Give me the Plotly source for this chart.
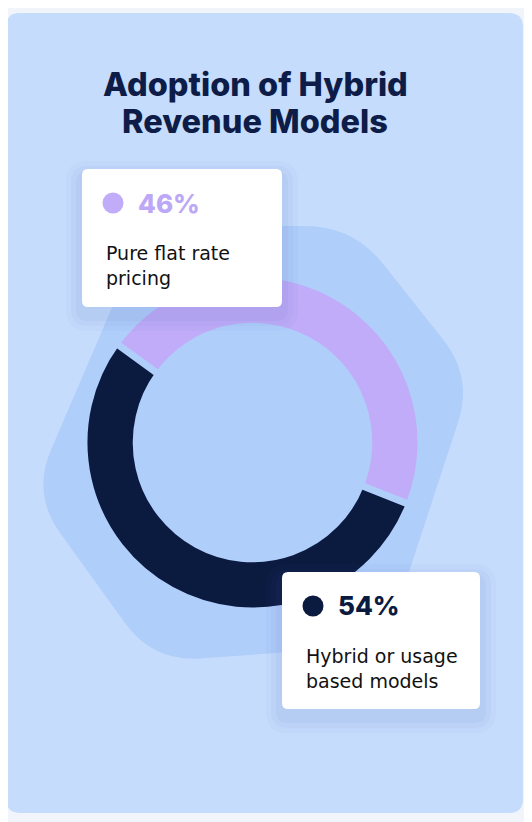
import plotly.graph_objects as go

W, H = 532, 822
OFF = 8  # page body margin in the browser

# data
labels = ["Pure flat rate pricing", "Hybrid or usage based models"]
values = [46, 54]
colors = ["#c0acf8", "#0b1a3f"]
pct_text = ["46%", "54%"]
desc_lines = [["Pure flat rate", "pricing"], ["Hybrid or usage", "based models"]]

page_bg = "#f1f4fb"
card_bg = "#c6dcfc"
hex_bg = "#b0cefa"
navy = "#0e1c48"


def px(x):
    return (x - OFF) / W


def py(y):
    return 1 - (y - OFF) / H


def rounded_path(pts, r):
    # closed polygon (pixel coords) with rounded corners
    n = len(pts)
    segs = []
    for i in range(n):
        p0 = pts[i - 1]
        p1 = pts[i]
        p2 = pts[(i + 1) % n]
        d1 = ((p1[0] - p0[0]) ** 2 + (p1[1] - p0[1]) ** 2) ** 0.5
        d2 = ((p2[0] - p1[0]) ** 2 + (p2[1] - p1[1]) ** 2) ** 0.5
        a = min(r, d1 / 2) / d1
        b = min(r, d2 / 2) / d2
        s = (p1[0] - (p1[0] - p0[0]) * a, p1[1] - (p1[1] - p0[1]) * a)
        e = (p1[0] + (p2[0] - p1[0]) * b, p1[1] + (p2[1] - p1[1]) * b)
        segs.append((s, p1, e))
    out = "M %.5f,%.5f " % (px(segs[0][0][0]), py(segs[0][0][1]))
    for s, c, e in segs:
        out += "L %.5f,%.5f Q %.5f,%.5f %.5f,%.5f " % (px(s[0]), py(s[1]), px(c[0]), py(c[1]), px(e[0]), py(e[1]))
    return out + "Z"


def rrect(x0, y0, x1, y1, r):
    return rounded_path([(x0, y0), (x1, y0), (x1, y1), (x0, y1)], r)


shapes = []
# card
shapes.append(dict(type="path", xref="paper", yref="paper", layer="below",
                   path=rrect(6, 13, 523, 813, 14), fillcolor=card_bg, line=dict(width=0)))
# soft hexagon behind the donut
hex_pts = [(353, 226), (473, 377), (385, 645), (153, 662), (32, 494), (147, 226)]
shapes.append(dict(type="path", xref="paper", yref="paper", layer="below",
                   path=rounded_path(hex_pts, 48), fillcolor=hex_bg, line=dict(width=0)))

boxes = [(82, 169, 282, 307), (282, 572, 480, 709)]
dots = [(113, 203), (313, 606)]
for (x0, y0, x1, y1), (cx, cy), col in zip(boxes, dots, colors):
    for k, op in [(16, 0.03), (11, 0.04), (6, 0.05)]:
        shapes.append(dict(type="path", xref="paper", yref="paper", layer="above",
                           path=rrect(x0 - k, y0 - k + 8, x1 + k, y1 + k + 8, 6 + k),
                           fillcolor="rgba(70,100,180,%.2f)" % op, line=dict(width=0)))
    shapes.append(dict(type="path", xref="paper", yref="paper", layer="above",
                       path=rrect(x0, y0, x1, y1, 6), fillcolor="white", line=dict(width=0)))
    shapes.append(dict(type="circle", xref="paper", yref="paper", layer="above",
                       x0=px(cx - 10.5), x1=px(cx + 10.5), y0=py(cy + 10.5), y1=py(cy - 10.5),
                       fillcolor=col, line=dict(width=0)))

fig = go.Figure(go.Pie(
    labels=labels, values=values, sort=False, direction="clockwise", rotation=-54,
    hole=0.69, textinfo="none", showlegend=False,
    marker=dict(colors=colors, line=dict(color=hex_bg, width=7)),
    domain=dict(x=[px(252.5 - 168.5), px(252.5 + 168.5)], y=[py(442.5 + 168.5), py(442.5 - 168.5)]),
))

annotations = []
title_lines = [("Adoption of Hybrid", 85), ("Revenue Models", 122)]
for txt, y in title_lines:
    annotations.append(dict(text=txt, x=px(255), y=py(y), xref="paper", yref="paper",
                            showarrow=False, xanchor="center", yanchor="middle",
                            font=dict(family="Inter", size=32.5, weight=800, color=navy)))

pct_pos = [(136, 203), (336, 605.5)]
pct_colors = ["#bca8f6", "#0b1a3f"]
body_pos = [(104, 252.5, 277.5), (304, 656, 681)]
for i in range(2):
    annotations.append(dict(text=pct_text[i], x=px(pct_pos[i][0]), y=py(pct_pos[i][1]),
                            xref="paper", yref="paper", showarrow=False, xanchor="left", yanchor="middle",
                            font=dict(family="Inter", size=26, weight=800, color=pct_colors[i])))
    bx, y1, y2 = body_pos[i]
    for line, y in zip(desc_lines[i], (y1, y2)):
        annotations.append(dict(text=line, x=px(bx), y=py(y), xref="paper", yref="paper",
                                showarrow=False, xanchor="left", yanchor="middle",
                                font=dict(family="DejaVu Sans", size=19, color="#111111")))

fig.update_layout(
    width=W, height=H, margin=dict(l=0, r=0, t=0, b=0),
    paper_bgcolor=page_bg, plot_bgcolor=page_bg,
    shapes=shapes, annotations=annotations,
)

fig.write_html("out.html")
